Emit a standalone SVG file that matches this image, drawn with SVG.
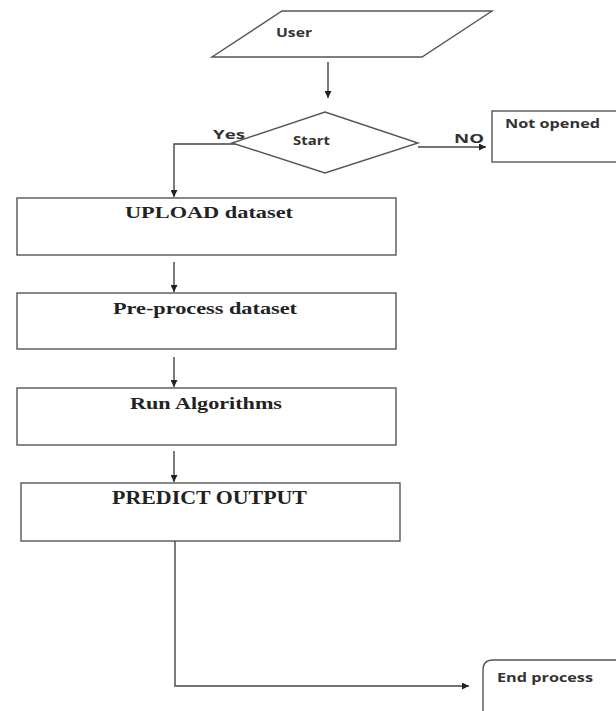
<svg xmlns="http://www.w3.org/2000/svg" width="616" height="711" viewBox="0 0 616 711">
<style>
.shape{fill:#fff;stroke:#555;stroke-width:1.4}
.conn{fill:none;stroke:#444;stroke-width:1.4}
.sans{font-family:"Open Sans","Liberation Sans",sans-serif;font-weight:bold;fill:#333}
.serif{font-family:"Liberation Serif","Times New Roman",serif;font-weight:bold;fill:#222}
</style>
<defs>
<marker id="ah" viewBox="0 0 10 10" refX="10" refY="5" markerWidth="7" markerHeight="7" orient="auto" markerUnits="userSpaceOnUse">
<path d="M0,0 L10,5 L0,10 z" fill="#222"/>
</marker>
</defs>
<rect width="616" height="711" fill="#fff"/>
<g id="connectors">
<line class="conn" x1="328" y1="62" x2="328" y2="98" marker-end="url(#ah)"/>
<polyline class="conn" points="238,144 174,144 174,197" marker-end="url(#ah)"/>
<line class="conn" x1="418" y1="147" x2="486" y2="147" marker-end="url(#ah)"/>
<line class="conn" x1="174" y1="262" x2="174" y2="292" marker-end="url(#ah)"/>
<line class="conn" x1="174" y1="357" x2="174" y2="387" marker-end="url(#ah)"/>
<line class="conn" x1="174" y1="451" x2="174" y2="482" marker-end="url(#ah)"/>
<polyline class="conn" points="175,541 175,686 469,686" marker-end="url(#ah)"/>
<text class="sans" x="213" y="139" font-size="13" textLength="32" lengthAdjust="spacingAndGlyphs">Yes</text>
<text class="sans" x="454" y="143" font-size="13" textLength="30" lengthAdjust="spacingAndGlyphs">NO</text>
</g>
<g id="user">
<polygon class="shape" points="282,11 492,11 422,57 212,57"/>
<text class="sans" x="276" y="37" font-size="13" textLength="36" lengthAdjust="spacingAndGlyphs">User</text>
</g>
<g id="start">
<polygon class="shape" points="325,112 418,143 325,173 232,143"/>
<text class="sans" x="293" y="145" font-size="13" textLength="37" lengthAdjust="spacingAndGlyphs">Start</text>
</g>
<g id="not-opened">
<rect class="shape" x="492" y="111" width="130" height="51"/>
<text class="sans" x="505" y="128" font-size="13" textLength="95" lengthAdjust="spacingAndGlyphs">Not opened</text>
</g>
<g id="upload">
<rect class="shape" x="17" y="198" width="379" height="57"/>
<text class="serif" x="125" y="218" font-size="17" textLength="168" lengthAdjust="spacingAndGlyphs">UPLOAD dataset</text>
</g>
<g id="preprocess">
<rect class="shape" x="17" y="293" width="379" height="56"/>
<text class="serif" x="113" y="314" font-size="17" textLength="184" lengthAdjust="spacingAndGlyphs">Pre-process  dataset</text>
</g>
<g id="run">
<rect class="shape" x="17" y="388" width="379" height="57"/>
<text class="serif" x="130" y="409" font-size="17" textLength="152" lengthAdjust="spacingAndGlyphs">Run Algorithms</text>
</g>
<g id="predict">
<rect class="shape" x="21" y="483" width="379" height="58"/>
<text class="serif" x="112" y="504" font-size="18" textLength="195" lengthAdjust="spacingAndGlyphs">PREDICT OUTPUT</text>
</g>
<g id="end">
<path class="shape" d="M483,715 L483,670 Q483,660 493,660 L620,660"/>
<text class="sans" x="497" y="682" font-size="13" textLength="96" lengthAdjust="spacingAndGlyphs">End process</text>
</g>
</svg>
